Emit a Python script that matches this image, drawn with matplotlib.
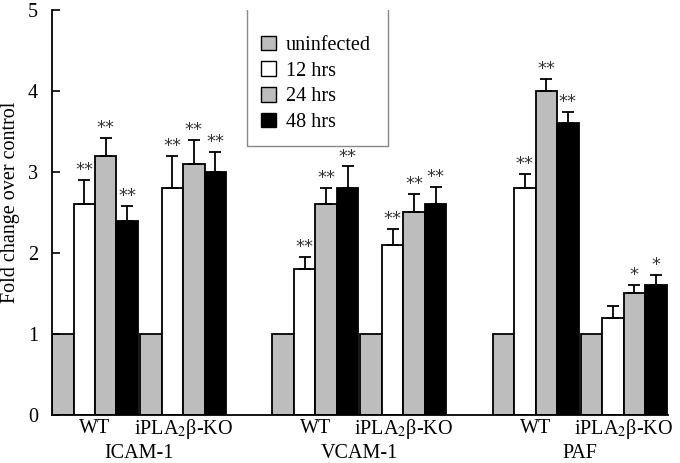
import numpy as np
import matplotlib.pyplot as plt
from matplotlib.patches import Patch, Rectangle

plt.rcParams['font.family'] = ['Liberation Serif', 'DejaVu Serif']
plt.rcParams['mathtext.fontset'] = 'stix'

# data
markers = ["ICAM-1", "VCAM-1", "PAF"]
genotypes = ["WT", "iPLA$_2$β-KO"]
series = ["uninfected", "12 hrs", "24 hrs", "48 hrs"]
colors = ["#bdbdbd", "white", "#bdbdbd", "black"]

# rows: ICAM WT, ICAM KO, VCAM WT, VCAM KO, PAF WT, PAF KO
means = [
    [1, 2.6, 3.2, 2.4],
    [1, 2.8, 3.1, 3.0],
    [1, 1.8, 2.6, 2.8],
    [1, 2.1, 2.5, 2.6],
    [1, 2.8, 4.0, 3.6],
    [1, 1.2, 1.5, 1.6],
]
errors = [
    [0, 0.30, 0.22, 0.18],
    [0, 0.40, 0.30, 0.25],
    [0, 0.15, 0.20, 0.27],
    [0, 0.20, 0.23, 0.22],
    [0, 0.18, 0.15, 0.14],
    [0, 0.15, 0.11, 0.13],
]
stars = [
    ["", "**", "**", "**"],
    ["", "**", "**", "**"],
    ["", "**", "**", "**"],
    ["", "**", "**", "**"],
    ["", "**", "**", "**"],
    ["", "", "*", "*"],
]

fig = plt.figure(figsize=(6.8, 4.63), dpi=100)
ax = fig.add_axes([0.0765, 0.1037, 0.9055, 0.8747])

bw = 1.0
group_starts = []
for p in range(3):
    for g in range(2):
        group_starts.append(p * 10.25 + g * 4.1)

for i, start in enumerate(group_starts):
    for j in range(4):
        x = start + j * bw + bw / 2
        ax.bar(x, means[i][j], width=bw, color=colors[j], edgecolor="black", linewidth=1.3)
        if errors[i][j] > 0:
            ax.errorbar(x, means[i][j], yerr=[[0], [errors[i][j]]], fmt="none",
                        ecolor="black", elinewidth=1.3, capsize=4, capthick=1.3)
        if stars[i][j]:
            ax.text(x, means[i][j] + errors[i][j] + 0.01, stars[i][j], ha="center",
                    va="bottom", fontsize=13, family="DejaVu Sans", color="#333333")

ax.set_xlim(0, 28.65)
ax.set_ylim(0, 5)
ax.set_yticks(range(6))
ax.tick_params(axis="y", direction="in", length=6, labelsize=14.5, width=1.2, pad=10)
ax.set_xticks([])
ax.spines["top"].set_visible(False)
ax.spines["right"].set_visible(False)
ax.spines["left"].set_linewidth(1.3)
ax.spines["bottom"].set_linewidth(1.3)
ax.set_ylabel("Fold change over control", fontsize=14.5)
ax.yaxis.set_label_coords(-0.052, 0.524)

for i, start in enumerate(group_starts):
    ax.text(start + 2, -0.17, genotypes[i % 2], ha="center", va="center", fontsize=14.5,
            clip_on=False)
for p in range(3):
    ax.text(p * 10.25 + 4.05, -0.47, markers[p], ha="center", va="center", fontsize=14.5,
            clip_on=False)

# legend box
box = Rectangle((0.3632, 0.6847), 0.2074, 0.3045, transform=fig.transFigure,
                facecolor="white", edgecolor="#888888", linewidth=1.0, zorder=5)
ax.add_patch(box)
handles = [Patch(facecolor=c, edgecolor="black", linewidth=1.0) for c in colors]
leg = ax.legend(handles, series, loc="upper left", bbox_to_anchor=(0.384, 1 - 35.5 / 463),
                bbox_transform=fig.transFigure, fontsize=14.5, frameon=False,
                borderpad=0, borderaxespad=0, handlelength=0.72, handleheight=0.72,
                handletextpad=0.5, labelspacing=0.33)
leg.set_zorder(6)

fig.savefig("out.png", dpi=100)
